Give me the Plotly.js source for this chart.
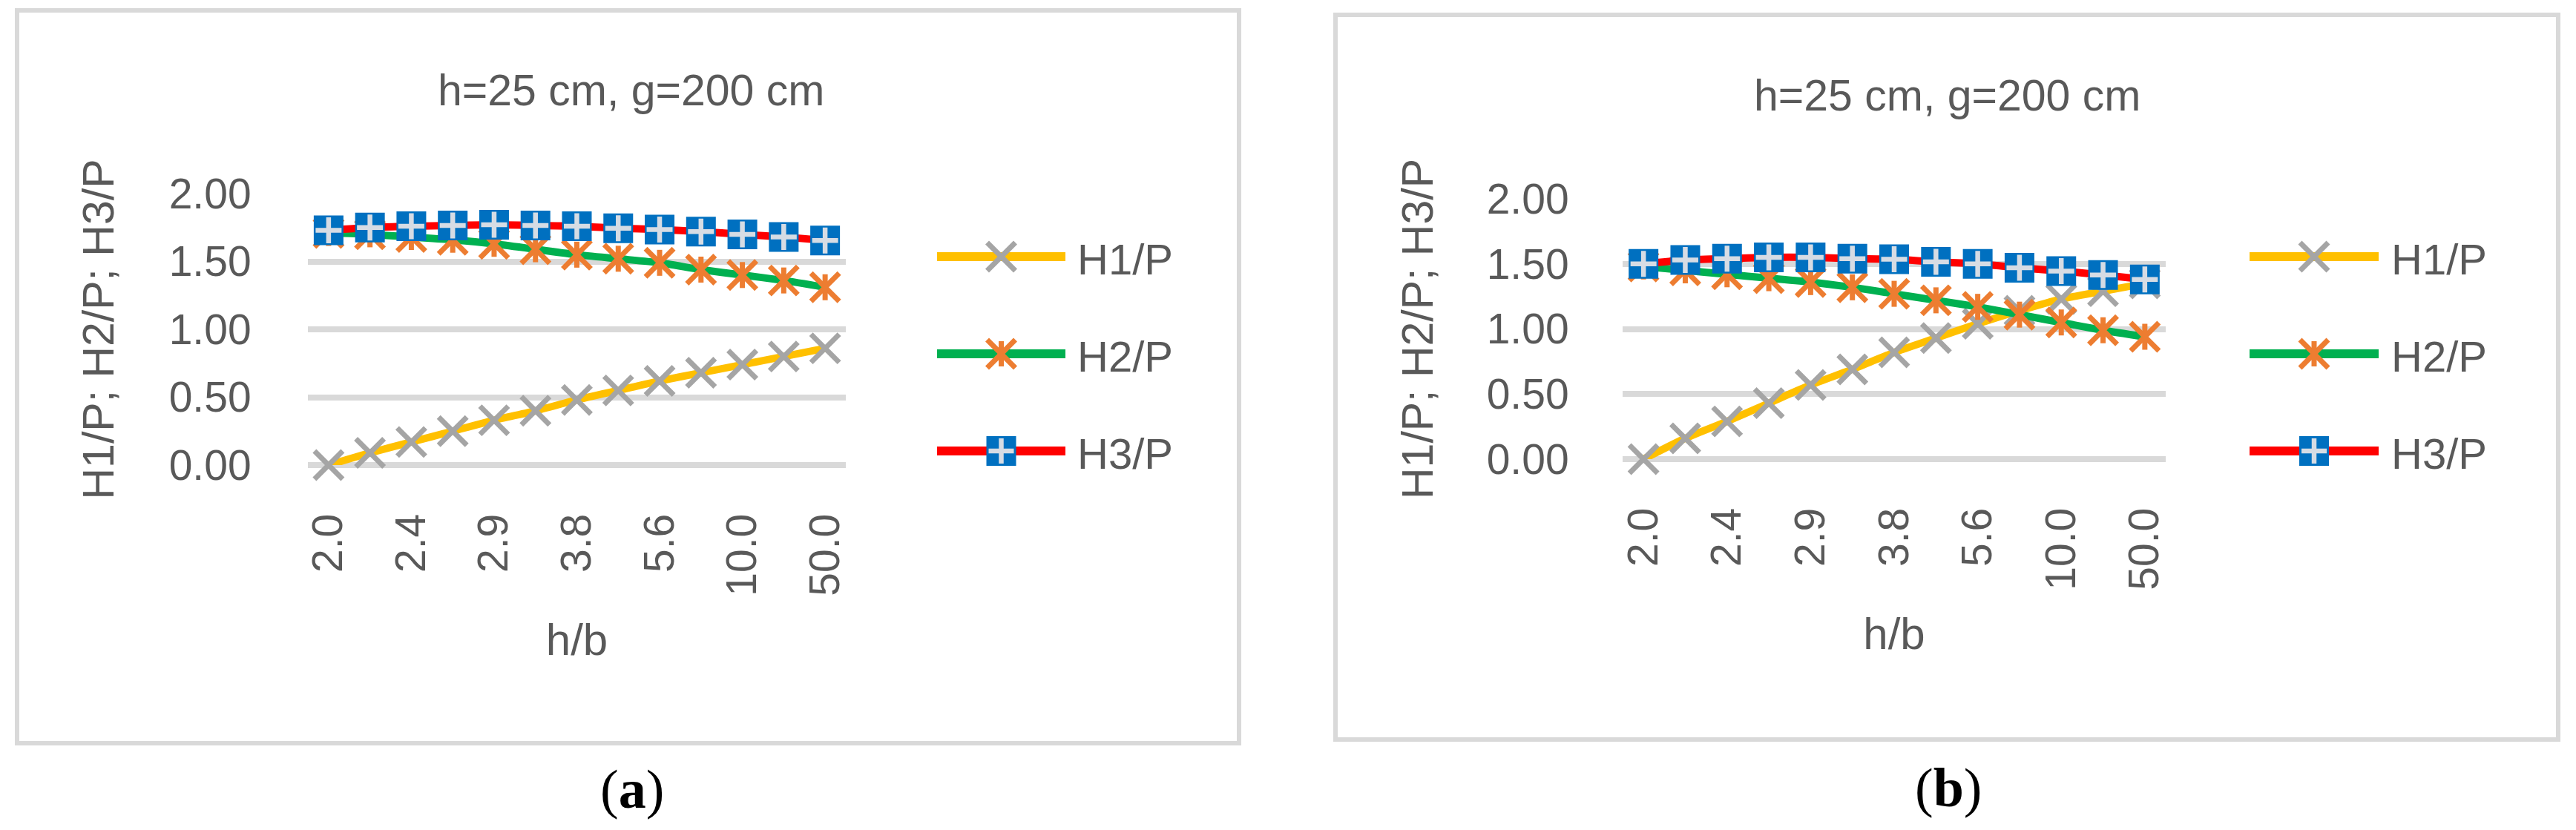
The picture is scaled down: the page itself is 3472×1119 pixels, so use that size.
<!DOCTYPE html>
<html>
<head>
<meta charset="utf-8">
<script src="https://cdn.plot.ly/plotly-3.0.1.min.js"></script>
<style>
  html, body { margin: 0; padding: 0; background: #ffffff; }
  #plot { width: 3472px; height: 1119px; }
</style>
</head>
<body>
<div id="plot"></div>
<script>
// h/b categories (h = 25 cm, b = 12.5 ... 0.5 cm)
var hb = ['2.0', '2.2', '2.4', '2.6', '2.9', '3.3', '3.8', '4.5', '5.6', '7.1', '10.0', '16.7', '50.0'];
var hbTicks = ['2.0', '2.4', '2.9', '3.8', '5.6', '10.0', '50.0'];
var seriesNames = ['H1/P', 'H2/P', 'H3/P'];

// panel (a)
var h1a = [0.00, 0.09, 0.17, 0.25, 0.33, 0.40, 0.48, 0.55, 0.62, 0.68, 0.74, 0.80, 0.86];
var h2a = [1.71, 1.70, 1.68, 1.66, 1.63, 1.59, 1.55, 1.52, 1.49, 1.44, 1.40, 1.36, 1.31];
var h3a = [1.73, 1.75, 1.76, 1.765, 1.77, 1.765, 1.76, 1.745, 1.735, 1.72, 1.70, 1.68, 1.655];

// panel (b)
var h1b = [0.00, 0.16, 0.29, 0.43, 0.57, 0.69, 0.82, 0.93, 1.04, 1.14, 1.23, 1.29, 1.35];
var h2b = [1.48, 1.45, 1.42, 1.39, 1.36, 1.32, 1.27, 1.22, 1.17, 1.11, 1.05, 0.99, 0.94];
var h3b = [1.50, 1.53, 1.54, 1.55, 1.55, 1.54, 1.535, 1.515, 1.50, 1.47, 1.445, 1.415, 1.38];

var W = 3472, H = 1119;
function fx(p) { return p / W; }
function fy(p) { return 1 - p / H; }

var txt = '#595959';
var grid = '#d9d9d9';
var font = 'Liberation Sans, Arial, sans-serif';

var col = {
  h1Line: '#ffc000', h1Mark: '#a5a5a5',
  h2Line: '#00b050', h2Mark: '#ed7d31',
  h3Line: '#ff0000', h3Mark: '#0070c0', h3Cross: '#d6dce4'
};

function panelTraces(xa, ya, h1, h2, h3) {
  var base = { x: hb, xaxis: xa, yaxis: ya, type: 'scatter', cliponaxis: false, hoverinfo: 'skip', showlegend: false };
  function t(o) { return Object.assign({}, base, o); }
  return [
    t({ y: h1, name: seriesNames[0], mode: 'lines+markers',
        line: { color: col.h1Line, width: 10, shape: 'spline', smoothing: 0.6 },
        marker: { symbol: 'x-thin', size: 38, color: col.h1Mark, line: { color: col.h1Mark, width: 7 } } }),
    t({ y: h2, name: seriesNames[1], mode: 'lines+markers',
        line: { color: col.h2Line, width: 10, shape: 'spline', smoothing: 0.6 },
        marker: { symbol: 'x-thin', size: 38, color: col.h2Mark, line: { color: col.h2Mark, width: 7 } } }),
    t({ y: h2, name: seriesNames[1], mode: 'markers',
        marker: { symbol: 'line-ns', size: 25, color: col.h2Mark, line: { color: col.h2Mark, width: 7 } } }),
    t({ y: h3, name: seriesNames[2], mode: 'lines+markers',
        line: { color: col.h3Line, width: 10, shape: 'spline', smoothing: 0.6 },
        marker: { symbol: 'square', size: 40, color: col.h3Mark, line: { width: 0 } } }),
    t({ y: h3, name: seriesNames[2], mode: 'markers',
        marker: { symbol: 'cross-thin', size: 25, color: col.h3Cross, line: { color: col.h3Cross, width: 6.5 } } })
  ];
}

var data = [].concat(
  panelTraces('x', 'y', h1a, h2a, h3a),
  panelTraces('x2', 'y2', h1b, h2b, h3b)
);

function xAxis(x0, x1, yanchor, standoff) {
  return {
    domain: [fx(x0), fx(x1)], anchor: yanchor, type: 'category',
    categoryorder: 'array', categoryarray: hb, range: [-0.5, hb.length - 0.5],
    tickmode: 'array', tickvals: hbTicks, ticktext: hbTicks, tickangle: -90,
    tickfont: { size: 57, color: txt, family: font },
    ticks: 'outside', ticklen: 42, tickcolor: 'rgba(0,0,0,0)',
    showgrid: false, zeroline: false, showline: false,
    title: { text: 'h/b', font: { size: 60, color: txt, family: font }, standoff: standoff }
  };
}

function yAxis(y0, y1, xanchor, ticklen, standoff) {
  return {
    domain: [fy(y0), fy(y1)], anchor: xanchor, range: [0, 2],
    tickmode: 'linear', tick0: 0, dtick: 0.5, tickformat: '.2f',
    tickfont: { size: 57, color: txt, family: font },
    ticks: 'outside', ticklen: ticklen, tickcolor: 'rgba(0,0,0,0)',
    showgrid: true, gridcolor: grid, gridwidth: 8,
    zeroline: true, zerolinecolor: grid, zerolinewidth: 8, showline: false,
    title: { text: 'H1/P; H2/P; H3/P', font: { size: 59, color: txt, family: font }, standoff: standoff }
  };
}

// frames, chart titles, captions, legends
var shapes = [];
var annotations = [];

function frame(x0, y0, x1, y1) {
  shapes.push({ type: 'rect', xref: 'paper', yref: 'paper', x0: fx(x0), x1: fx(x1), y0: fy(y1), y1: fy(y0),
    line: { color: grid, width: 6 }, fillcolor: 'rgba(0,0,0,0)', layer: 'below' });
}

function label(text, x, y, size, color, fam, anchor) {
  annotations.push({ xref: 'paper', yref: 'paper', x: fx(x), y: fy(y), text: text, showarrow: false,
    xanchor: anchor || 'center', yanchor: 'middle', font: { size: size, color: color, family: fam } });
}

function seg(x0, y0, x1, y1, color, width) {
  shapes.push({ type: 'line', xref: 'paper', yref: 'paper', x0: fx(x0), y0: fy(y0), x1: fx(x1), y1: fy(y1),
    line: { color: color, width: width } });
}

function legend(lx0, lx1, tx, rows) {
  var cx = (lx0 + lx1) / 2, r = 19;
  // H1/P
  seg(lx0, rows[0], lx1, rows[0], col.h1Line, 12);
  seg(cx - r, rows[0] - r, cx + r, rows[0] + r, col.h1Mark, 7);
  seg(cx - r, rows[0] + r, cx + r, rows[0] - r, col.h1Mark, 7);
  // H2/P
  seg(lx0, rows[1], lx1, rows[1], col.h2Line, 12);
  seg(cx - r, rows[1] - r, cx + r, rows[1] + r, col.h2Mark, 7);
  seg(cx - r, rows[1] + r, cx + r, rows[1] - r, col.h2Mark, 7);
  seg(cx, rows[1] - 17, cx, rows[1] + 17, col.h2Mark, 7);
  // H3/P
  seg(lx0, rows[2], lx1, rows[2], col.h3Line, 12);
  shapes.push({ type: 'rect', xref: 'paper', yref: 'paper', x0: fx(cx - 20), x1: fx(cx + 20), y0: fy(rows[2] + 20), y1: fy(rows[2] - 20),
    fillcolor: col.h3Mark, line: { width: 0 } });
  seg(cx - 17, rows[2], cx + 17, rows[2], col.h3Cross, 6.5);
  seg(cx, rows[2] - 17, cx, rows[2] + 17, col.h3Cross, 6.5);
  for (var i = 0; i < 3; i++) label(seriesNames[i], tx, rows[i] + 3, 58, txt, font, 'left');
}

frame(23, 14, 1670, 1002);
frame(1800, 20, 3448, 997);

label('h=25 cm, g=200 cm', 850, 122, 59, txt, font);
label('h=25 cm, g=200 cm', 2624, 129, 59, txt, font);

label('(<b>a</b>)', 852, 1064, 74, '#000000', 'Liberation Serif, Times New Roman, serif');
label('(<b>b</b>)', 2626, 1062, 74, '#000000', 'Liberation Serif, Times New Roman, serif');

legend(1263, 1436, 1450, [346, 477, 608]);
legend(3032, 3206, 3221, [346, 477, 608]);

var layout = {
  width: W, height: H,
  margin: { l: 0, r: 0, t: 0, b: 0 },
  paper_bgcolor: '#ffffff', plot_bgcolor: 'rgba(0,0,0,0)',
  showlegend: false,
  font: { family: font, color: txt },
  xaxis: xAxis(415, 1140, 'y', 38),
  yaxis: yAxis(627, 261, 'x', 64, 54),
  xaxis2: xAxis(2187, 2919, 'y2', 38),
  yaxis2: yAxis(619, 268, 'x2', 60, 52),
  shapes: shapes,
  annotations: annotations
};

Plotly.newPlot('plot', data, layout, { staticPlot: true });
</script>
</body>
</html>
